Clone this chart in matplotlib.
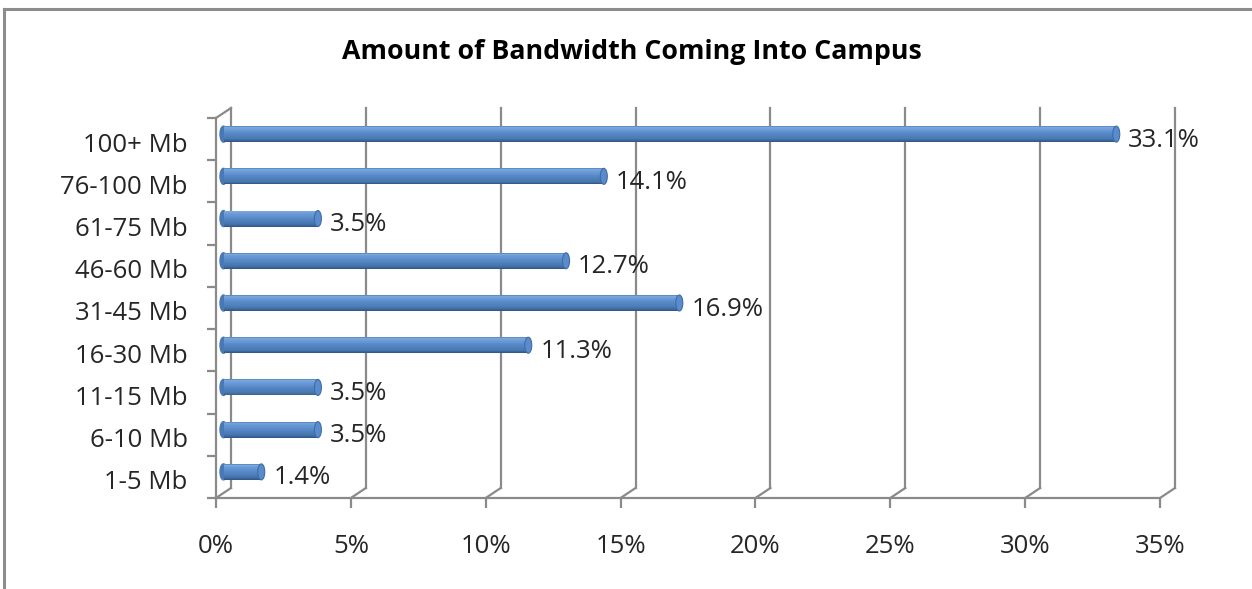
import numpy as np
import matplotlib
matplotlib.use("Agg")
import matplotlib.pyplot as plt
import matplotlib.transforms as mtransforms
from matplotlib.patches import Ellipse
from matplotlib.lines import Line2D

categories = ["1-5 Mb", "6-10 Mb", "11-15 Mb", "16-30 Mb", "31-45 Mb",
              "46-60 Mb", "61-75 Mb", "76-100 Mb", "100+ Mb"]
values = [1.4, 3.5, 3.5, 11.3, 16.9, 12.7, 3.5, 14.1, 33.1]
xticks = [0, 5, 10, 15, 20, 25, 30, 35]
xticklabels = ["0%", "5%", "10%", "15%", "20%", "25%", "30%", "35%"]
title = "Amount of Bandwidth Coming Into Campus"

W, H = 1252, 589
plt.rcParams['font.family'] = ['Open Sans', 'DejaVu Sans']
fig = plt.figure(figsize=(W / 100, H / 100), dpi=100)

# chart border (top and left)
fig.add_artist(Line2D([4 / W, 1], [1 - 9 / H, 1 - 9 / H], color="#8c8c8c", lw=2.2))
fig.add_artist(Line2D([4 / W, 4 / W], [0, 1 - 9 / H], color="#8c8c8c", lw=2.2))

fx0, fx1, fy_top, fy_bot = 216, 1160, 118, 498
ax = fig.add_axes([fx0 / W, (H - fy_bot) / H, (fx1 - fx0) / W, (fy_bot - fy_top) / H])
xmin, xmax = 0, 35
ymin, ymax = -0.5, len(categories) - 0.5
ax.set_xlim(xmin, xmax)
ax.set_ylim(ymin, ymax)

pxx = (xmax - xmin) / (fx1 - fx0)
pxy = (ymax - ymin) / (fy_bot - fy_top)
dx = 15 * pxx
dy = 10 * pxy

gc = "#8a8a8a"
glw = 1.6
# back gridlines + floor diagonals
for t in xticks:
    ax.plot([t + dx, t + dx], [ymin + dy, ymax + dy], color=gc, lw=glw, clip_on=False, zorder=1)
    ax.plot([t, t + dx], [ymin, ymin + dy], color=gc, lw=glw, clip_on=False, zorder=1)
# top-left diagonal
ax.plot([0, dx], [ymax, ymax + dy], color=gc, lw=glw, clip_on=False, zorder=1)

for s in ["top", "right"]:
    ax.spines[s].set_visible(False)
for s in ["left", "bottom"]:
    ax.spines[s].set_color(gc)
    ax.spines[s].set_linewidth(glw)

fs = 18.5
tc = "#262626"
ax.set_xticks(xticks)
ax.set_xticklabels(xticklabels, fontsize=fs, color=tc)
ax.set_yticks(range(len(categories)))
ax.set_yticklabels(categories, fontsize=fs, color=tc)
ax.set_yticks(np.arange(ymin, ymax + 0.01, 1.0), minor=True)
ax.tick_params(axis="x", direction="out", length=7.5, width=glw, color=gc, pad=18.5)
ax.tick_params(axis="y", which="major", length=0, pad=20.5)
ax.tick_params(axis="y", which="minor", direction="out", length=6.5, width=glw, color=gc)
shift = mtransforms.ScaledTranslation(0, -3 / 100, fig.dpi_scale_trans)
for lab in ax.get_yticklabels():
    lab.set_transform(lab.get_transform() + shift)

# cylinder bars
bh = 16 * pxy
ys = np.arange(len(categories)) + dy / 2
left = dx / 2
prof_pos = [0.0, 0.06, 0.2, 0.5, 0.8, 0.93, 1.0]
prof_col = np.array([[0x45, 0x74, 0xae], [0x7c, 0xa8, 0xdf], [0x6c, 0x9b, 0xd7],
                     [0x55, 0x87, 0xc5], [0x48, 0x77, 0xb0], [0x3a, 0x63, 0x98],
                     [0x2e, 0x51, 0x80]]) / 255.0
nstrip = 18
vals = np.array(values)
for i, v in enumerate(vals):
    e = Ellipse((left, ys[i]), 7 * pxx, bh, color="#4879b5", zorder=2)
    ax.add_patch(e)
for k in range(nstrip):
    f = (k + 0.5) / nstrip
    c = [np.interp(f, prof_pos, prof_col[:, j]) for j in range(3)]
    yk = ys + bh / 2 - (k + 0.5) * bh / nstrip
    ax.barh(yk, vals, height=bh / nstrip * 1.05, left=left, color=c, lw=0, zorder=3)
for i, v in enumerate(vals):
    e = Ellipse((left + v, ys[i]), 7 * pxx, bh, facecolor="#5a8ccd",
                edgecolor="#3f6ca4", lw=0.8, zorder=4)
    ax.add_patch(e)
    ax.text(left + v + 12 * pxx, i - 1 * pxy, f"{v:.1f}%", fontsize=fs, color=tc,
            va="center", ha="left", zorder=5)

fig.text(632 / W, 1 - 59 / H, title, fontsize=19.3, fontweight="bold",
         ha="center", va="baseline", color="#000000")

fig.savefig("out.png", dpi=100)
